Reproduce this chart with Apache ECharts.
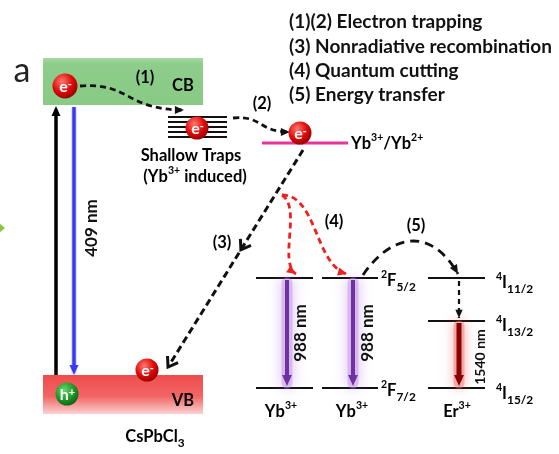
<!DOCTYPE html>
<html>
<head>
<meta charset="utf-8">
<script src="https://cdn.jsdelivr.net/npm/echarts@6/dist/echarts.min.js"></script>
<style>
  html, body { margin: 0; padding: 0; background: #fff; }
  #chart { width: 559px; height: 454px; }
</style>
</head>
<body>
<div id="chart"></div>
<script>
// Energy-level scheme of Yb3+/Er3+ co-doped CsPbCl3.
// Diagram units: x runs left→right, y runs top→bottom (higher energy = smaller y).

// Host bands: [left, right] and [top, bottom]
const bandNames = ['CB', 'VB'];
const bandX = [[43, 203], [43, 203]];
const bandY = [[58, 105], [375, 414]];

// Shallow trap levels (Yb3+ induced)
const trapLevelY = [117, 122, 127, 132, 137];
const trapSpanX = [168, 227];

// Yb3+/Yb2+ defect level
const defectSpanX = [262, 348];
const defectLevelY = 143;

// Ion energy levels: [xLeft, xRight, y]
const ionLevels = [
  [256, 313, 278], [256, 313, 388],            // Yb3+  2F5/2, 2F7/2
  [322, 378, 278], [322, 378, 388],            // Yb3+  2F5/2, 2F7/2
  [428, 485, 278], [428, 485, 321], [428, 485, 388] // Er3+ 4I11/2, 4I13/2, 4I15/2
];

// Radiative / optical transitions: [x, yFrom, yTo]
const solidArrows = [
  [56, 375, 106],   // excitation
  [74, 107, 375],   // 409 nm emission
  [287, 280, 386],  // 988 nm
  [353, 280, 386],  // 988 nm
  [459, 323, 386]   // 1540 nm
];
const solidArrowKind = ['exc', 'blue', 'purple', 'purple', 'red'];

// Non-radiative processes as cubic Bézier paths
const curvedPaths = [
  [[80, 86], [130, 82], [125, 110], [184, 110]],     // (1)
  [[233, 118], [262, 115], [258, 132], [290, 132]],  // (2)
  [[282, 195], [302, 208], [278, 262], [296, 274]],  // (4) left
  [[282, 195], [317, 195], [315, 265], [347, 274]],  // (4) right
  [[363, 275], [390, 235], [430, 225], [458, 274]]   // (5)
];
const curvedKind = ['black', 'black', 'red', 'red', 'long'];

// Straight dashed processes: from, to, arrowhead positions along the path (0..1)
const straightPaths = [
  { from: [303, 150], to: [168, 367], heads: [0.46, 1] },   // (3)
  { from: [459, 281], to: [459, 318], heads: [1] }          // 4I11/2 → 4I13/2
];

// Carriers
const carrierPos = [[65, 86], [197, 128], [300, 133], [147, 370], [67, 394]];
const carrierType = ['e', 'e', 'e', 'e', 'h'];

// Text labels: [x, y, text, style]
const labels = [
  [22, 71, 'a', 'big'],
  [145, 78, '(1)', 'b'],
  [183, 86, 'CB', 'b'],
  [262, 104, '(2)', 'b'],
  [191, 156, 'Shallow Traps', 'b'],
  [195, 177, '{n|(Yb}{u|3+}{n| induced)}', 'b'],
  [351, 144, '{n|Yb}{u|3+}{n|/Yb}{u|2+}', 'bl'],
  [222, 243, '(3)', 'b'],
  [334, 222, '(4)', 'b'],
  [416, 226, '(5)', 'b'],
  [183, 401, 'VB', 'b'],
  [155, 437, '{n|CsPbCl}{d|3}', 'b'],
  [381, 281, '{u|2}{n|F}{d|5/2}', 'bl'],
  [381, 391, '{u|2}{n|F}{d|7/2}', 'bl'],
  [496, 283, '{u|4}{n|I}{d|11/2}', 'bl'],
  [496, 326, '{u|4}{n|I}{d|13/2}', 'bl'],
  [496, 394, '{u|4}{n|I}{d|15/2}', 'bl'],
  [281, 412, '{n|Yb}{u|3+}', 'b'],
  [352, 412, '{n|Yb}{u|3+}', 'b'],
  [457, 412, '{n|Er}{u|3+}', 'b'],
  [92, 228, '409 nm', 'rot'],
  [301, 333, '988 nm', 'rot'],
  [368, 333, '988 nm', 'rot'],
  [480, 357, '1540 nm', 'rotS']
];

// Process legend
const legendLines = [
  '(1)(2) Electron trapping',
  '(3) Nonradiative recombination',
  '(4) Quantum cutting',
  '(5) Energy transfer'
];
const legendX = 289;
const legendY = [22, 47, 71, 95];

const FONT = 'Lato, "Open Sans", sans-serif';
const INK = '#111';

const chart = echarts.init(document.getElementById('chart'), null, { renderer: 'canvas' });

function headPts(tip, from, size, spread) {
  const ang = Math.atan2(tip[1] - from[1], tip[0] - from[0]);
  const a1 = ang + Math.PI - spread, a2 = ang + Math.PI + spread;
  return [
    [tip[0] + size * Math.cos(a1), tip[1] + size * Math.sin(a1)],
    tip,
    [tip[0] + size * Math.cos(a2), tip[1] + size * Math.sin(a2)]
  ];
}

const richBase = (size) => ({
  n: { fontFamily: FONT, fontWeight: 'bold', fontSize: size, color: INK, lineHeight: 24, verticalAlign: 'middle' },
  u: { fontFamily: FONT, fontWeight: 'bold', fontSize: size * 0.64, color: INK, lineHeight: 12, verticalAlign: 'top' },
  d: { fontFamily: FONT, fontWeight: 'bold', fontSize: size * 0.72, color: INK, lineHeight: 13, verticalAlign: 'bottom' }
});

const idx = (arr) => arr.map((_, i) => i);

const option = {
  animation: false,
  backgroundColor: '#fff',
  grid: { left: 0, right: 0, top: 0, bottom: 0 },
  xAxis: { type: 'value', min: 0, max: 559, show: false },
  yAxis: { type: 'value', min: 0, max: 454, inverse: true, show: false },
  series: [
    // host bands
    {
      type: 'custom', data: idx(bandNames), z: 1,
      renderItem: (p, api) => {
        const i = p.dataIndex;
        const a = api.coord([bandX[i][0], bandY[i][0]]);
        const b = api.coord([bandX[i][1], bandY[i][1]]);
        const fill = i === 0
          ? new echarts.graphic.LinearGradient(0, 0, 0, 1, [
              { offset: 0, color: '#a6d9a2' }, { offset: 0.12, color: '#8ecd8b' }, { offset: 1, color: '#88ca86' }])
          : new echarts.graphic.LinearGradient(0, 0, 0, 1, [
              { offset: 0, color: '#f04c4c' }, { offset: 0.55, color: '#f26565' }, { offset: 1, color: '#fbd2d2' }]);
        return { type: 'rect', shape: { x: a[0], y: a[1], width: b[0] - a[0], height: b[1] - a[1] }, style: { fill } };
      }
    },
    // trap levels
    {
      type: 'custom', data: idx(trapLevelY), z: 2,
      renderItem: (p, api) => {
        const y = trapLevelY[p.dataIndex];
        const a = api.coord([trapSpanX[0], y]), b = api.coord([trapSpanX[1], y]);
        return { type: 'line', shape: { x1: a[0], y1: a[1], x2: b[0], y2: b[1] }, style: { stroke: INK, lineWidth: 2.2 } };
      }
    },
    // defect level
    {
      type: 'custom', data: [0], z: 2,
      renderItem: (p, api) => {
        const a = api.coord([defectSpanX[0], defectLevelY]), b = api.coord([defectSpanX[1], defectLevelY]);
        return { type: 'line', shape: { x1: a[0], y1: a[1], x2: b[0], y2: b[1] }, style: { stroke: '#e8349c', lineWidth: 3 } };
      }
    },
    // ion levels
    {
      type: 'custom', data: idx(ionLevels), z: 2,
      renderItem: (p, api) => {
        const l = ionLevels[p.dataIndex];
        const a = api.coord([l[0], l[2]]), b = api.coord([l[1], l[2]]);
        return { type: 'line', shape: { x1: a[0], y1: a[1], x2: b[0], y2: b[1] }, style: { stroke: INK, lineWidth: 2.2 } };
      }
    },
    // optical transitions
    {
      type: 'custom', data: idx(solidArrows), z: 3,
      renderItem: (p, api) => {
        const s = solidArrows[p.dataIndex], kind = solidArrowKind[p.dataIndex];
        const from = api.coord([s[0], s[1]]), tip = api.coord([s[0], s[2]]);
        const sty = {
          exc: { c: '#000', w: 3.5, halo: null, hs: 11 },
          blue: { c: '#3a3af5', w: 3.5, halo: 'rgba(150,150,210,0.25)', hw: 6, blur: 5, hs: 11 },
          purple: { c: '#7030a0', w: 4, halo: 'rgba(190,140,225,0.45)', hw: 11, blur: 14, sc: 'rgba(170,100,220,0.95)', hs: 12 },
          red: { c: '#8b0000', w: 5, halo: 'rgba(235,110,110,0.45)', hw: 11, blur: 12, sc: 'rgba(230,70,70,0.95)', hs: 12 }
        }[kind];
        const dir = Math.sign(tip[1] - from[1]);
        const stem = [tip[0], tip[1] - dir * sty.hs * 0.8];
        const kids = [];
        if (sty.halo) {
          kids.push({ type: 'line', shape: { x1: from[0], y1: from[1] + dir * 3, x2: tip[0], y2: tip[1] - dir * 3 },
            style: { stroke: sty.halo, lineWidth: sty.hw, shadowBlur: sty.blur, shadowColor: sty.sc || sty.halo, lineCap: 'round' } });
        }
        kids.push({ type: 'line', shape: { x1: from[0], y1: from[1], x2: stem[0], y2: stem[1] }, style: { stroke: sty.c, lineWidth: sty.w } });
        kids.push({ type: 'polygon', shape: { points: headPts(tip, from, sty.hs, 0.42) }, style: { fill: sty.c } });
        return { type: 'group', children: kids };
      }
    },
    // curved non-radiative processes
    {
      type: 'custom', data: idx(curvedPaths), z: 4,
      renderItem: (p, api) => {
        const pts = curvedPaths[p.dataIndex].map(q => api.coord(q));
        const kind = curvedKind[p.dataIndex];
        const c = kind === 'red' ? '#f02020' : INK;
        const dash = kind === 'long' ? [9, 6] : [6, 4];
        return {
          type: 'group', children: [
            { type: 'bezierCurve',
              shape: { x1: pts[0][0], y1: pts[0][1], cpx1: pts[1][0], cpy1: pts[1][1], cpx2: pts[2][0], cpy2: pts[2][1], x2: pts[3][0], y2: pts[3][1] },
              style: { stroke: c, lineWidth: 2.8, lineDash: dash, fill: null } },
            { type: 'polygon', shape: { points: headPts(pts[3], pts[2], 10, 0.42) }, style: { fill: c } }
          ]
        };
      }
    },
    // straight dashed processes
    {
      type: 'custom', data: idx(straightPaths), z: 4,
      renderItem: (p, api) => {
        const s = straightPaths[p.dataIndex];
        const a = api.coord(s.from), b = api.coord(s.to);
        const open = p.dataIndex === 0;
        const kids = [{ type: 'line', shape: { x1: a[0], y1: a[1], x2: b[0], y2: b[1] },
          style: { stroke: INK, lineWidth: open ? 3 : 2.2, lineDash: open ? [7, 4] : [5, 4] } }];
        s.heads.forEach(t => {
          const tip = [a[0] + (b[0] - a[0]) * t, a[1] + (b[1] - a[1]) * t];
          const pts = headPts(tip, a, open ? 11 : 9, open ? 0.6 : 0.42);
          kids.push(open
            ? { type: 'polyline', shape: { points: pts }, style: { stroke: INK, lineWidth: 3, fill: null } }
            : { type: 'polygon', shape: { points: pts }, style: { fill: INK } });
        });
        return { type: 'group', children: kids };
      }
    },
    // carriers
    {
      type: 'custom', data: idx(carrierPos), z: 6,
      renderItem: (p, api) => {
        const c = api.coord(carrierPos[p.dataIndex]);
        const hole = carrierType[p.dataIndex] === 'h';
        const r = p.dataIndex === 0 ? 12.5 : 11.5;
        const fill = hole
          ? new echarts.graphic.RadialGradient(0.38, 0.32, 0.75, [
              { offset: 0, color: '#6ad36a' }, { offset: 0.55, color: '#1f9a2a' }, { offset: 1, color: '#0b5d14' }])
          : new echarts.graphic.RadialGradient(0.38, 0.32, 0.75, [
              { offset: 0, color: '#ff7a6e' }, { offset: 0.55, color: '#e00a0a' }, { offset: 1, color: '#8c0000' }]);
        return {
          type: 'group', children: [
            { type: 'circle', shape: { cx: c[0], cy: c[1], r }, style: { fill } },
            { type: 'text', x: c[0] + 0.5, y: c[1] + 1,
              style: { text: hole ? '{m|h}{s|+}' : '{m|e}{s|-}', align: 'center', verticalAlign: 'middle',
                rich: {
                  m: { fontFamily: FONT, fontWeight: 'bold', fontSize: 16, fill: '#fff', lineHeight: 17, verticalAlign: 'middle' },
                  s: { fontFamily: FONT, fontWeight: 'bold', fontSize: 11, fill: '#fff', lineHeight: 10, verticalAlign: 'top' }
                } } }
          ]
        };
      }
    },
    // labels
    {
      type: 'custom', data: idx(labels), z: 7,
      renderItem: (p, api) => {
        const l = labels[p.dataIndex];
        const c = api.coord([l[0], l[1]]);
        const k = l[3];
        if (k === 'big') {
          return { type: 'text', x: c[0], y: c[1], style: { text: l[2], fontFamily: FONT, fontSize: 34, fill: '#222', align: 'center', verticalAlign: 'middle' } };
        }
        if (k === 'rot' || k === 'rotS') {
          return { type: 'text', x: c[0], y: c[1], rotation: Math.PI / 2,
            style: { text: l[2], fontFamily: FONT, fontWeight: 'bold', fontSize: k === 'rot' ? 17 : 14, fill: INK, align: 'center', verticalAlign: 'middle' } };
        }
        const txt = l[2].indexOf('{') === 0 ? l[2] : '{n|' + l[2] + '}';
        return { type: 'text', x: c[0], y: c[1],
          style: { text: txt, align: k === 'bl' ? 'left' : 'center', verticalAlign: 'middle', rich: richBase(16.5) } };
      }
    },
    // process legend
    {
      type: 'custom', data: idx(legendLines), z: 7,
      renderItem: (p, api) => {
        const c = api.coord([legendX, legendY[p.dataIndex]]);
        return { type: 'text', x: c[0], y: c[1],
          style: { text: legendLines[p.dataIndex], fontFamily: FONT, fontWeight: 'bold', fontSize: 19, fill: INK, align: 'left', verticalAlign: 'middle' } };
      }
    },
    // small green pointer at the left edge
    {
      type: 'custom', data: [[2, 228]], z: 7,
      renderItem: (p, api) => {
        const c = api.coord([api.value(0), api.value(1)]);
        return { type: 'polygon', shape: { points: [[c[0] - 3, c[1] - 5], [c[0] + 3, c[1]], [c[0] - 3, c[1] + 5]] }, style: { fill: '#8cc63f' } };
      }
    }
  ]
};

chart.setOption(option);
</script>
</body>
</html>
